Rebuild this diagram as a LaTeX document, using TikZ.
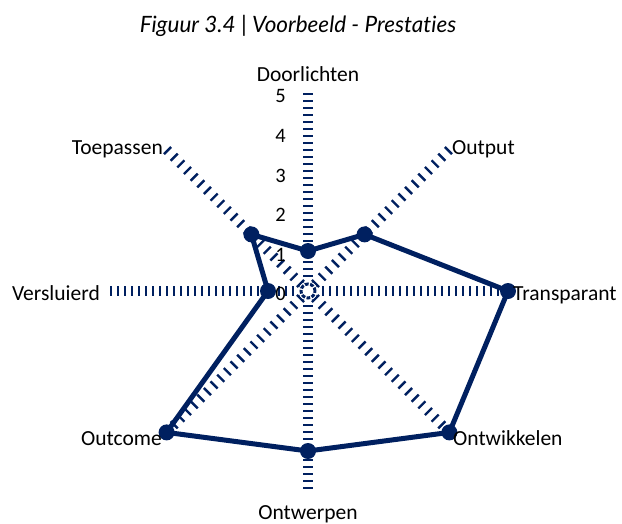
\documentclass[tikz,border=0pt]{standalone}
\usepackage{fontspec}
\setmainfont{Carlito}
\newfontfamily\titlefont[Ligatures=NoCommon]{Lato}
\definecolor{navy}{RGB}{0,32,96}
\begin{document}
\begin{tikzpicture}[x=1pt,y=-1pt,
  axisline/.style={navy, line width=10pt, dash pattern=on 2pt off 5pt},
  diagline/.style={navy, line width=10pt, dash pattern=on 2.4pt off 7pt},
  series/.style={navy, line width=5pt, line join=round},
  marker/.style={circle, fill=navy, inner sep=0pt, minimum size=16pt},
  lbl/.style={font=\fontsize{21.5}{24}\selectfont, inner sep=0pt, text=black},
  scalenum/.style={font=\fontsize{20.5}{24}\selectfont, inner sep=0pt, anchor=base east}]
\useasboundingbox (0,0) rectangle (622,523);

% centre and axis ends (radius 200 = value 5)
\coordinate (c) at (308,291);
\coordinate (eN)  at (308,91);
\coordinate (eNE) at (449.4,149.6);
\coordinate (eE)  at (508,291);
\coordinate (eSE) at (449.4,432.4);
\coordinate (eS)  at (308,491);
\coordinate (eSW) at (166.6,432.4);
\coordinate (eW)  at (108,291);
\coordinate (eNW) at (166.6,149.6);

% dashed axes
\foreach \e in {eN,eE,eS,eW}
  \draw[axisline] (c) -- (\e);
\foreach \e in {eNE,eSE,eSW,eNW}
  \draw[diagline] (c) -- (\e);

% centre ring
\fill[white] (c) circle (9.5);
\draw[navy, line width=3pt, dash pattern=on 3.7pt off 1.55pt, dash phase=1.8pt, fill=white] (c) circle (7);

% data points (40 per unit)
\node[marker] (pN)  at (308,251) {};
\node[marker] (pNE) at (364.6,234.4) {};
\node[marker] (pE)  at (508,291) {};
\node[marker] (pSE) at (449.4,432.4) {};
\node[marker] (pS)  at (308,451) {};
\node[marker] (pSW) at (166.6,432.4) {};
\node[marker] (pW)  at (268,291) {};
\node[marker] (pNW) at (251.4,234.4) {};

\draw[series] (pN.center) -- (pNE.center) -- (pE.center) -- (pSE.center)
  -- (pS.center) -- (pSW.center) -- (pW.center) -- (pNW.center) -- cycle;

% scale numbers
\node[scalenum] (s5) at (286,102) {5};
\node[scalenum] (s4) at (286,142) {4};
\node[scalenum] (s3) at (286,182) {3};
\node[scalenum] (s2) at (286,221) {2};
\node[scalenum] (s1) at (286,261) {1};
\node[scalenum] (s0) at (286,300) {0};

% axis labels
\node[lbl, anchor=base]      (lN)  at (308,81)  {Doorlichten};
\node[lbl, anchor=base west] (lNE) at (452,154) {Output};
\node[lbl, anchor=base west] (lE)  at (513,300) {Transparant};
\node[lbl, anchor=base west] (lSE) at (453,445) {Ontwikkelen};
\node[lbl, anchor=base]      (lS)  at (308,519) {Ontwerpen};
\node[lbl, anchor=base east] (lSW) at (162,445) {Outcome};
\node[lbl, anchor=base east] (lW)  at (100,300) {Versluierd};
\node[lbl, anchor=base east] (lNW) at (163,154) {Toepassen};

% title
\node[font=\titlefont\itshape\fontsize{22.5}{26}\selectfont, anchor=base, inner sep=0pt] (title)
  at (298,32) {Figuur 3.4 | Voorbeeld - Prestaties};
\end{tikzpicture}
\end{document}
